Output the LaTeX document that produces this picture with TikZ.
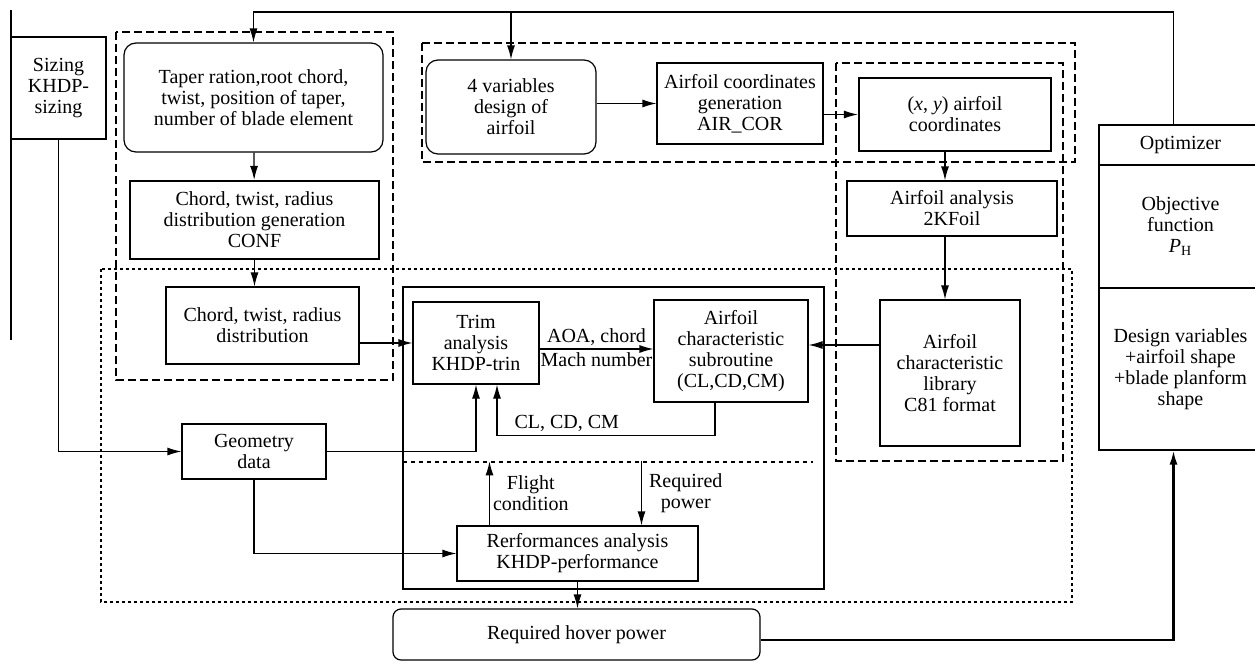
\documentclass[tikz,border=0pt]{standalone}
\usepackage{fontspec}
\setmainfont{Liberation Serif}
\usetikzlibrary{arrows.meta, positioning}

\begin{document}
\begin{tikzpicture}[
    x=0.5pt, y=-0.5pt,
    font=\fontsize{10}{10.5}\selectfont,
    line width=0.6pt,
    sz/.style 2 args={minimum width=#1*0.5pt, minimum height=#2*0.5pt},
    blok/.style={draw, align=center, inner sep=0pt},
    tebal/.style={blok, line width=1.1pt},
    bulat/.style={blok, rounded corners=6pt},
    panah/.style={-{Latex[length=7pt, width=4pt]}},
    ket/.style={align=center, inner sep=1.5pt},
    putus/.style={dash pattern=on 4pt off 2pt, line width=0.7pt},
    titik/.style={dash pattern=on 1.5pt off 1.5pt, line width=1pt}
  ]
  \useasboundingbox (0,0) rectangle (1255,664);

  % bingkai
  \draw[putus] (116,32) rectangle (393,380);
  \draw[putus] (422,43) rectangle (1075,162);
  \draw[putus] (836,63) rectangle (1063,461);
  \draw[titik] (101,269) rectangle (1072,602);
  \draw[line width=1.1pt] (403,287) rectangle (824,589);
  \draw[dash pattern=on 2pt off 2pt] (403,462) -- (813,462);
  \draw (11,10) -- (11,340);

  \node[blok, sz={95}{102}] (sizing) at (58.5,88) {Sizing\\KHDP-\\sizing};
  \node[bulat, sz={259}{109}] (taper) at (253.5,97.5)
  {Taper ration,root chord,\\twist, position of taper,\\number of blade element};
  \node[tebal, sz={249}{78}] (conf) at (254.5,220)
  {Chord, twist, radius\\distribution generation\\CONF};
  \node[blok, sz={193}{77}] (chord) at (262.5,325.5) {Chord, twist, radius\\distribution};
  \node[blok, sz={144}{55}] (geom) at (254,451.5) {Geometry\\data};
  \node[blok, sz={126}{82}] (trim) at (476,343) {Trim\\analysis\\KHDP-trin};
  \node[blok, sz={154}{102}] (sub) at (731,351)
  {Airfoil\\characteristic\\subroutine\\(CL,CD,CM)};
  \node[blok, sz={241}{55}] (perf) at (577.5,553.5)
  {Rerformances analysis\\KHDP-performance};
  \node[bulat, rounded corners=4pt, sz={367}{51}] (hover) at (576.5,634.5)
  {Required hover power};
  \node[bulat, sz={170}{94}] (var) at (511,107) {4 variables\\design of\\airfoil};
  \node[blok, sz={166}{81}] (aircor) at (740,103.5)
  {Airfoil coordinates\\generation\\AIR\_COR};
  \node[tebal, sz={192}{73}] (xy) at (955,114.5)
  {(\textit{x}, \textit{y}) airfoil\\coordinates};
  \node[blok, sz={210}{55}] (kfoil) at (952,208.5) {Airfoil analysis\\2KFoil};
  \node[blok, sz={140}{146}] (lib) at (950,373)
  {Airfoil\\characteristic\\library\\C81 format};
  \node[blok, sz={163}{40}] (opt) at (1180.5,145) {Optimizer};
  \node[blok, sz={163}{123}] (objf) at (1180.5,226.5)
  {Objective\\function\\\textit{P}\textsubscript{H}};
  \node[blok, sz={163}{162}] (desvar) at (1180.5,369)
  {Design variables\\+airfoil shape\\+blade planform\\shape};

  \coordinate (atas) at (700,12);
  \draw[panah] ([xshift=-3.5pt]opt.north) |- (atas) -| (taper.north);
  \draw[panah] (var.north |- atas) -- (var.north);
  \draw[panah] (sizing) |- (geom);
  \draw[panah] (taper) -- (conf);
  \draw[panah] (conf.south) -- (conf.south |- chord.north);
  \draw[panah] (chord.east |- trim.west) -- (trim.west);
  \draw[panah] (geom) -| (trim);
  \draw[panah] (geom) |- (perf);
  \draw[panah] ([yshift=-3pt]trim.east) -- ([yshift=-3pt]trim.east -| sub.west)
  node[ket, midway, above] {AOA, chord} node[ket, midway, below] {Mach number};
  \draw[panah] ([xshift=-8pt]sub.south) -- ++(0,-16.5pt)
  -| node[ket, pos=0.34, above] {CL, CD, CM} ([xshift=10.5pt]trim.south);
  \draw[panah] ([yshift=14pt]lib.west) -- ([yshift=14pt]lib.west -| sub.east);
  \draw[panah] ([xshift=-44pt]perf.north) -- ++(0,32pt)
  node[ket, midway, right] {Flight\\condition};
  \draw[panah] ([xshift=32pt, yshift=32pt]perf.north) -- ([xshift=32pt]perf.north)
  node[ket, midway, right, xshift=2pt] {Required\\power};
  \draw[panah] (perf.south) -- (perf.south |- hover.north);
  \draw[panah, line width=1.1pt] ([yshift=-2.75pt]hover.east) -| ([xshift=-3.5pt]desvar.south);
  \draw[panah] (var.east |- aircor) -- (aircor);
  \draw[panah] (aircor.east |- xy) -- (xy);
  \draw[panah] ([xshift=-5pt]xy.south) -- ([xshift=-5pt]xy.south |- kfoil.north);
  \draw[panah] ([xshift=-3.5pt]kfoil.south) -- ([xshift=-3.5pt]kfoil.south |- lib.north);
\end{tikzpicture}
\end{document}
